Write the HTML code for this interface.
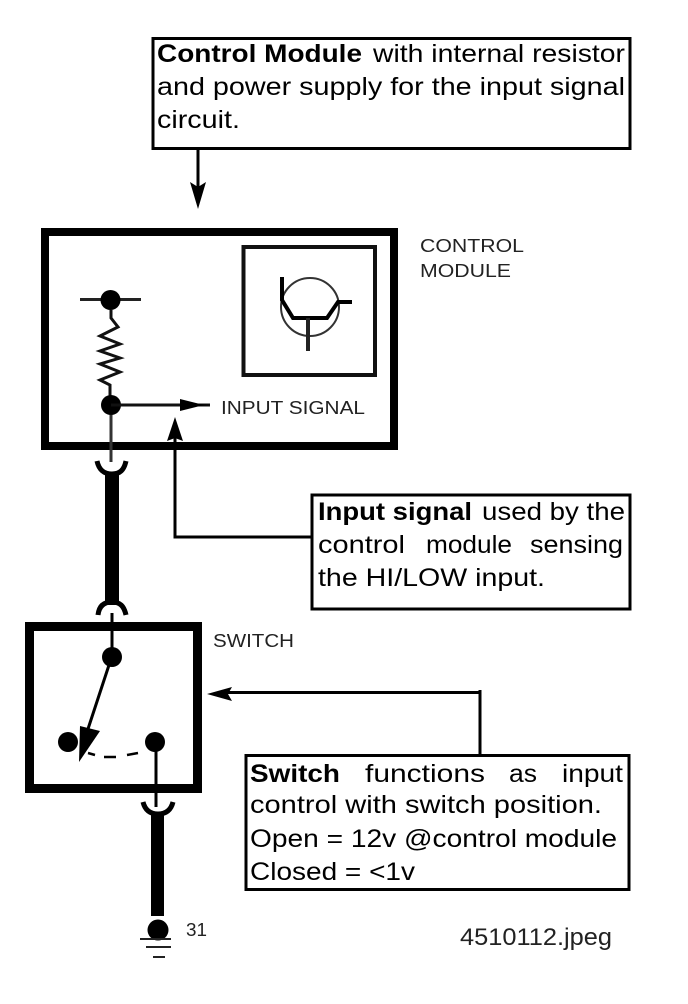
<!DOCTYPE html>
<html><head><meta charset="utf-8"><style>
html,body{margin:0;padding:0;background:#fff}
svg{display:block}
text{font-family:"Liberation Sans",sans-serif;fill:#000}
.b{font-size:25px}
.h{font-size:25px;font-weight:bold}
.s{font-size:18px;fill:#222}
</style></head><body>
<svg width="688" height="1004" viewBox="0 0 688 1004" xmlns="http://www.w3.org/2000/svg">
<rect width="688" height="1004" fill="#fff"/>
<!-- Text boxes -->
<g fill="none" stroke="#000" stroke-width="3">
<rect x="153" y="38.500" width="477" height="110"/>
<rect x="312" y="495" width="318" height="114"/>
<rect x="246" y="755.500" width="383" height="134"/>
</g>
<text class="h" x="157" y="62" textLength="205" lengthAdjust="spacingAndGlyphs">Control Module</text>
<text class="b" x="373" y="62" textLength="252" lengthAdjust="spacingAndGlyphs">with internal resistor</text>
<text class="b" x="157" y="95" textLength="468" lengthAdjust="spacingAndGlyphs">and power supply for the input signal</text>
<text class="b" x="157" y="128" textLength="83" lengthAdjust="spacingAndGlyphs">circuit.</text>
<text class="h" x="318" y="520" textLength="154" lengthAdjust="spacingAndGlyphs">Input signal</text>
<text class="b" x="482" y="520" textLength="143" lengthAdjust="spacingAndGlyphs">used by the</text>
<text class="b" x="318" y="553" textLength="87" lengthAdjust="spacingAndGlyphs">control</text>
<text class="b" x="426" y="553" textLength="86" lengthAdjust="spacingAndGlyphs">module</text>
<text class="b" x="530" y="553" textLength="93" lengthAdjust="spacingAndGlyphs">sensing</text>
<text class="b" x="318" y="586" textLength="227" lengthAdjust="spacingAndGlyphs">the HI/LOW input.</text>
<text class="h" x="250" y="782" textLength="90" lengthAdjust="spacingAndGlyphs">Switch</text>
<text class="b" x="365" y="782" textLength="120" lengthAdjust="spacingAndGlyphs">functions</text>
<text class="b" x="509" y="782" textLength="28" lengthAdjust="spacingAndGlyphs">as</text>
<text class="b" x="562" y="782" textLength="61" lengthAdjust="spacingAndGlyphs">input</text>
<text class="b" x="250" y="813" textLength="352" lengthAdjust="spacingAndGlyphs">control with switch position.</text>
<text class="b" x="250" y="847" textLength="367" lengthAdjust="spacingAndGlyphs">Open = 12v @control module</text>
<text class="b" x="250" y="880" textLength="165" lengthAdjust="spacingAndGlyphs">Closed = &lt;1v</text>
<text x="460" y="945" font-size="24" textLength="152" lengthAdjust="spacingAndGlyphs" style="fill:#222">4510112.jpeg</text>
<!-- small labels -->
<text class="s" x="420" y="252" textLength="104" lengthAdjust="spacingAndGlyphs">CONTROL</text>
<text class="s" x="420" y="277" textLength="91" lengthAdjust="spacingAndGlyphs">MODULE</text>
<text class="s" x="221" y="414" textLength="144" lengthAdjust="spacingAndGlyphs">INPUT SIGNAL</text>
<text class="s" x="213" y="647" textLength="81" lengthAdjust="spacingAndGlyphs">SWITCH</text>
<text class="s" x="186" y="936" textLength="21" lengthAdjust="spacingAndGlyphs">31</text>
<!-- Module boxes -->
<rect x="45" y="232" width="349" height="214" fill="none" stroke="#000" stroke-width="8"/>
<rect x="243.500" y="247" width="131.500" height="128" fill="none" stroke="#111" stroke-width="4"/>
<rect x="29.500" y="626.500" width="168" height="162" fill="none" stroke="#000" stroke-width="9"/>
<!-- arrow from control module box -->
<path d="M198 150V190" stroke="#000" stroke-width="3" fill="none"/>
<path d="M190 182L198 209L206 182L198 187Z" fill="#000"/>
<!-- resistor branch -->
<path d="M80 299.500H141" stroke="#222" stroke-width="3"/>
<circle cx="110.500" cy="300" r="10" fill="#000"/>
<path d="M111 310V318L118 327L100 336L120 344L100 351L120 358L100 364L120 372L100 380L110 385V405" fill="none" stroke="#111" stroke-width="3"/>
<circle cx="111" cy="405" r="10" fill="#000"/>
<path d="M111 405H210" stroke="#111" stroke-width="3"/>
<path d="M180 399L200 404L210 405L200 406L180 411Z" fill="#000"/>
<path d="M111 415V462" stroke="#333" stroke-width="3"/>
<!-- input signal arrow -->
<path d="M175 433V537H312" fill="none" stroke="#000" stroke-width="3"/>
<path d="M175 417L167 441L175 438L183 441Z" fill="#000"/>
<!-- Transistor -->
<circle cx="310" cy="307" r="29" fill="none" stroke="#333" stroke-width="2"/>
<path d="M282 277V300L293 318H327L338 302H352" fill="none" stroke="#000" stroke-width="4"/>
<path d="M308 318V351" stroke="#222" stroke-width="4"/>
<!-- connectors -->
<path d="M97 461C99 470 104 474 112 474C120 474 124 470 126 461" fill="none" stroke="#000" stroke-width="5"/>
<path d="M112 472V605" stroke="#000" stroke-width="14"/>
<path d="M98 615C99 606 104 602 112 602C120 602 124 606 126 615" fill="none" stroke="#000" stroke-width="5"/>
<path d="M112 613V650" stroke="#000" stroke-width="3"/>
<!-- switch -->
<circle cx="112" cy="657" r="10" fill="#000"/>
<path d="M110 662L86 735" stroke="#000" stroke-width="3"/>
<circle cx="68" cy="742" r="10" fill="#000"/>
<path d="M80 726L100 731L79 762Z" fill="#000"/>
<path d="M88 753L95 755M104 757H116M127 755L138 753" stroke="#000" stroke-width="2.500"/>
<circle cx="155" cy="742" r="10" fill="#000"/>
<path d="M156 750V807" stroke="#000" stroke-width="3"/>
<path d="M143 802C145 810 150 814 158 814C166 814 171 810 173 802" fill="none" stroke="#000" stroke-width="5"/>
<path d="M157.500 812V916" stroke="#000" stroke-width="13"/>
<circle cx="158" cy="930" r="10.500" fill="#000"/>
<path d="M140 939H171" stroke="#222" stroke-width="2"/>
<path d="M146 947H171" stroke="#222" stroke-width="2"/>
<path d="M153 957H165" stroke="#222" stroke-width="2"/>
<!-- switch arrow -->
<path d="M480 690V756" stroke="#000" stroke-width="3" fill="none"/>
<path d="M225 692.500H481" stroke="#000" stroke-width="3"/>
<path d="M207 694L232 687L228 694L232 701Z" fill="#000"/>
</svg>
</body></html>
